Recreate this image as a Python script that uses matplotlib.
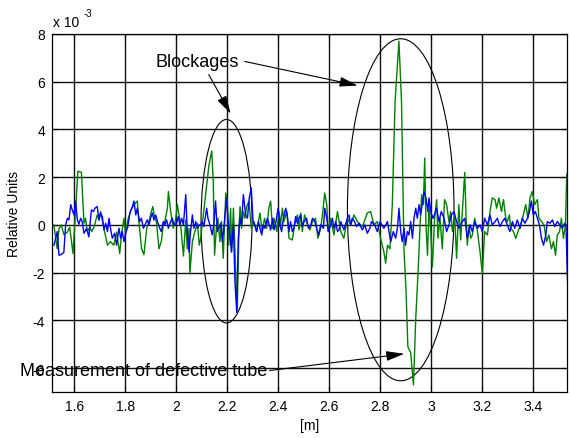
import numpy as np
import matplotlib
matplotlib.use("Agg")
import matplotlib.pyplot as plt
from matplotlib.patches import Ellipse
from matplotlib.ticker import FuncFormatter

plt.rcParams['font.family'] = 'Liberation Sans'
plt.rcParams['axes.unicode_minus'] = False

# position along the tube [m] and relative amplitude (x 1e-3)
green_x = [1.520, 1.533, 1.540, 1.549, 1.559, 1.573, 1.582, 1.595, 1.614, 1.628, 1.638, 1.644, 1.651, 1.661, 1.668,
           1.677, 1.690, 1.697, 1.703, 1.716, 1.730, 1.742, 1.755, 1.766, 1.778, 1.786, 1.795, 1.801, 1.810, 1.821,
           1.834, 1.847, 1.853, 1.864, 1.873, 1.884, 1.893, 1.902, 1.908, 1.915, 1.922, 1.932, 1.941, 1.949, 1.955,
           1.965, 1.969, 1.978, 1.988, 1.997, 2.004, 2.014, 2.017, 2.028, 2.037, 2.043, 2.050, 2.053, 2.063, 2.072,
           2.083, 2.090,
           2.095, 2.115, 2.128, 2.139, 2.145, 2.150, 2.158, 2.163, 2.171, 2.177, 2.184, 2.194, 2.200, 2.206, 2.213,
           2.217, 2.224, 2.233, 2.239, 2.246, 2.250, 2.256, 2.263, 2.269, 2.276, 2.285, 2.294, 2.305, 2.315, 2.328,
           2.337, 2.346, 2.354, 2.363, 2.370, 2.377, 2.383, 2.394, 2.403, 2.409, 2.416, 2.422, 2.433, 2.442, 2.455,
           2.464, 2.475, 2.481, 2.488, 2.494, 2.503, 2.514, 2.524, 2.534, 2.546, 2.555, 2.566, 2.573, 2.582, 2.590,
           2.596, 2.605,
           2.618, 2.632, 2.645, 2.657, 2.671, 2.684, 2.697, 2.710, 2.730, 2.749, 2.762, 2.775, 2.788, 2.801, 2.814,
           2.821, 2.828, 2.838, 2.847, 2.858, 2.873, 2.883, 2.893, 2.901, 2.908, 2.919, 2.930, 2.939, 2.948, 2.956,
           2.962, 2.969, 2.974, 2.979, 2.985, 2.991, 2.998, 3.004, 3.013, 3.021, 3.026, 3.034, 3.043, 3.052, 3.060,
           3.069, 3.076, 3.083, 3.092, 3.099, 3.108, 3.115, 3.126, 3.131, 3.136, 3.141, 3.148, 3.154, 3.161, 3.170,
           3.181, 3.191, 3.200, 3.209, 3.220, 3.230, 3.239, 3.250, 3.256, 3.265, 3.275, 3.283, 3.292, 3.298, 3.306,
           3.311, 3.322, 3.331, 3.340, 3.350, 3.361, 3.370, 3.379, 3.387, 3.396, 3.405, 3.416, 3.422, 3.432, 3.442,
           3.452, 3.461, 3.471, 3.479, 3.487, 3.494, 3.503, 3.510, 3.518, 3.526, 3.531, 3.536]
green_y = [0.0, -1.0, -0.15, 0.0, -0.4, -0.3, -0.1, -1.2, 2.25, 2.2, 0.07, 0.28, -0.28, -0.1, -0.28,
           -0.1, 0.42, 0.2, 0.56, -0.14, -0.85, -0.7, -0.85, -0.3, -1.2, -0.3, 0.28, -0.4, 0.2, 0.6,
           0.85, 1.0, 0.14, -1.0, -1.25, -0.14, 0.14, 0.56, 0.77, 0.28, 0.14, -1.0, -0.7, 0.0, 0.14,
           0.7, 1.4, 0.56, -0.14, 0.2, 0.85, 0.2, 0.0, -1.3, 0.2, -1.0, -0.14, -2.05, -0.7, -0.3,
           0.07, -0.85,
           -0.6, 1.27, 2.5, 3.1, 1.8, -1.27, 0.0, 0.28, -0.7, 0.14, -1.4, 1.34, 1.0, -0.85, 0.7,
           -1.13, 0.7, -2.0, -3.6, 0.0, 0.77, -0.14, 0.56, 0.28, 0.77, 1.0, -0.14, 0.14, -0.28, 0.5,
           -0.28, 0.28, -0.14, 0.7, 1.0, -0.14, 0.28, -0.28, 0.56, 0.0, 0.7, 0.14, 0.56, -0.56, -0.63,
           0.0, 0.42, -0.21, 0.5, -0.28, 0.42, 0.0, -0.21, 0.14, 0.28, -0.56, -0.14, 0.42, 1.34, 0.85,
           -0.28, 0.28,
           -0.42, 0.56, -0.28, -0.56, 0.28, 0.0, 0.42, 0.14, -0.07, 0.5, 0.56, 0.0, 0.14, -0.56, -1.13,
           -1.6, -0.85, -1.0, 0.85, 5.2, 7.7, 5.2, -1.1, -2.8, -5.1, -5.35, -6.7, -3.9, -2.0, 0.0,
           1.27, 0.85, 2.8, 0.0, -1.27, 0.85, -0.28, -1.76, 0.28, 1.06, -0.56, 0.28, -1.0, 1.06, 0.85,
           0.14, 0.56, -0.28, 0.28, -1.4, 0.85, -0.63, 1.27, 2.2, 0.42, -0.85, 0.0, -0.56, -0.42, 0.28,
           -0.28, -1.13, -2.05, -0.28, -0.42, 0.56, 1.13, 1.06, 0.7, 1.13, 0.56, 1.06, 0.28, 0.14, 0.42,
           -0.14, -0.28, -0.56, -0.28, 0.0, 0.42, 0.85, 0.28, 1.13, 1.4, 0.85, 1.06, 0.28, 0.14, 0.0,
           -0.7, -0.42, -1.0, -0.7, -1.27, -0.42, -0.28, 0.28, -0.56, 0.0, 2.1, 2.25]

blue_x = [1.520, 1.527, 1.533, 1.540, 1.549, 1.559, 1.566, 1.573, 1.579, 1.586, 1.592, 1.599, 1.605, 1.612, 1.618,
          1.625, 1.631, 1.638, 1.648, 1.657, 1.667, 1.675, 1.681, 1.690, 1.697, 1.703, 1.710, 1.716, 1.723, 1.730,
          1.736, 1.742, 1.749, 1.758, 1.766, 1.775, 1.782, 1.788, 1.795, 1.801, 1.810, 1.818, 1.828, 1.834, 1.841,
          1.847, 1.856, 1.863, 1.871, 1.877, 1.886, 1.893, 1.899, 1.906, 1.912, 1.919, 1.926, 1.935, 1.941, 1.949,
          1.955, 1.962, 1.969, 1.975, 1.984, 1.991, 2.001, 2.008, 2.014, 2.021, 2.028, 2.037, 2.043, 2.050, 2.056,
          2.063, 2.069, 2.076, 2.083, 2.089, 2.095, 2.102, 2.108, 2.119, 2.124, 2.132, 2.141, 2.148, 2.154, 2.161,
          2.167, 2.174, 2.181, 2.190, 2.197, 2.204, 2.211, 2.216, 2.224, 2.230, 2.237, 2.243, 2.250, 2.255, 2.263,
          2.272, 2.279, 2.286, 2.294, 2.301, 2.307, 2.315, 2.322, 2.328, 2.335, 2.341, 2.348, 2.357, 2.363, 2.370,
          2.378, 2.383, 2.391, 2.399, 2.406, 2.413, 2.420, 2.429, 2.435, 2.442, 2.448, 2.455, 2.461, 2.468, 2.475,
          2.481, 2.488, 2.494, 2.501, 2.511, 2.518, 2.527, 2.534, 2.543, 2.550, 2.559, 2.566, 2.577, 2.582, 2.590,
          2.596, 2.605, 2.612, 2.618, 2.625, 2.632, 2.638, 2.645, 2.657, 2.671, 2.677, 2.684, 2.690, 2.699, 2.707,
          2.716, 2.730, 2.739, 2.749, 2.759, 2.765, 2.778, 2.788, 2.799,
          2.814, 2.828, 2.834, 2.841, 2.851, 2.860, 2.867, 2.873, 2.880, 2.886, 2.893, 2.899, 2.906, 2.912, 2.919,
          2.926, 2.932, 2.939, 2.945, 2.952, 2.958, 2.965, 2.971, 2.979, 2.986, 2.991, 2.999, 3.007, 3.021, 3.030,
          3.039, 3.050, 3.060, 3.069, 3.079, 3.089, 3.099, 3.108, 3.122, 3.131, 3.141, 3.152, 3.161, 3.170, 3.181,
          3.191, 3.200, 3.209, 3.220, 3.230, 3.239, 3.250, 3.259, 3.269, 3.279, 3.288, 3.298, 3.308, 3.318, 3.327,
          3.337, 3.348, 3.357, 3.367, 3.377, 3.385, 3.392, 3.400, 3.408, 3.416, 3.424, 3.432, 3.440, 3.449, 3.455,
          3.465, 3.475, 3.484, 3.494, 3.504, 3.514, 3.523, 3.528, 3.533, 3.537]
blue_y = [-0.85, -0.56, -0.28, -1.27, -1.24, -1.15, 0.0, 0.28, 0.21, 0.85, 0.63, 0.42, 1.0, 0.21, 0.03,
          0.28, 0.14, -0.35, -0.14, -0.5, 0.63, 0.56, 0.7, 0.77, 0.21, 0.49, 0.35, -0.21, 0.07, -0.28,
          0.28, -0.14, -0.56, -0.35, -0.85, -0.14, -0.56, -0.28, -0.7, -0.35, -0.07, 0.5, 0.77, 1.0, 0.42,
          0.7, 0.14, 0.28, -0.14, 0.0, 0.21, 0.0, 0.28, 0.5, 0.21, 0.42, 0.14, -0.14, -0.28, 0.14,
          0.0, 0.21, -0.14, 0.07, 0.28, 0.0, 0.07, 0.35, 0.0, 0.28, 0.0, 1.27, -0.28, -1.13, -0.28,
          0.42, -0.14, 0.14, -0.14, 0.0, 0.0, 0.14, -0.07, 0.7, 0.28, 0.0, -0.42, 0.14, 1.0, -0.28,
          -0.14, 0.07, -0.7, 0.28, 1.13, 0.0, -0.42, -1.13, 0.0, -2.4, -3.66, -0.56, 0.28, 0.0, 1.27,
          0.42, 0.28, 1.13, 1.55, 0.14, 0.0, -0.28, 0.14, -0.14, -0.42, 0.0, -0.14, 0.28, 0.07, -0.21,
          0.28, -0.21, 0.14, 0.7, 0.0, -0.28, 0.28, 0.7, 0.42, -0.28, 0.14, -0.28, -0.14, 0.35, 0.07,
          0.28, 0.42, -0.07, 0.14, 0.28, -0.14, 0.0, 0.28, 0.14, -0.14, -0.42, 0.0, -0.14, 0.7, 0.28,
          -0.28, 0.0, 0.28, -0.14, 0.14, -0.28, -0.21, 0.14, -0.21, 0.28, 0.42, 0.0, 0.28, 0.14, -0.07,
          0.07, -0.21, 0.0, -0.35, -0.14, 0.14, 0.0, -0.28, 0.14,
          -0.14, 0.14, -0.28, -0.7, -0.28, -0.56, -0.14, 0.7, -0.28, -0.7, -0.14, -0.85, -0.28, -0.42, 0.14,
          -0.56, 0.28, 0.7, 0.28, 0.85, 0.42, 0.92, 1.4, 1.13, 0.56, 1.13, 0.49, 0.28, 0.7, 0.14,
          0.56, 0.28, -0.28, 0.0, 0.42, 0.56, 0.14, -0.14, 0.14, 0.28, -0.56, 0.0, -0.28, 0.14, -0.14,
          0.0, -0.28, 0.28, 0.0, 0.42, 0.0, 0.14, 0.28, -0.07, 0.14, 0.28, 0.0, -0.28, 0.14, -0.14,
          0.21, -0.14, 0.28, 0.07, 0.28, 0.56, 1.0, 0.42, 0.56, 0.28, 0.0, -0.56, -0.85, -0.42, 0.14,
          0.07, 0.21, -0.07, 0.14, 0.0, -0.14, 0.07, 0.0, -2.0, -3.1]

x_ticks = [1.6, 1.8, 2.0, 2.2, 2.4, 2.6, 2.8, 3.0, 3.2, 3.4]
y_ticks = [-6, -4, -2, 0, 2, 4, 6, 8]

scale = 1e-3

fig = plt.figure(figsize=(5.70, 4.39), dpi=100)
ax = fig.add_axes([0.0912, 0.1048, 0.9041, 0.8155])

ax.plot(green_x, np.array(green_y) * scale, color='#008000', lw=1.0)
ax.plot(blue_x, np.array(blue_y) * scale, color='#0000ff', lw=1.0)

ax.set_xlim(1.5125, 3.5333)
ax.set_ylim(-7 * scale, 8 * scale)
ax.set_xticks(x_ticks)
ax.set_yticks([v * scale for v in y_ticks])
ax.xaxis.set_major_formatter(FuncFormatter(lambda v, p: f"{v:g}"))
ax.yaxis.set_major_formatter(FuncFormatter(lambda v, p: f"{round(v / scale):d}"))
ax.tick_params(direction='in', length=4, labelsize=10, top=True, right=True, pad=5)
ax.grid(True, color='#111111', lw=1.0, ls='-')
ax.set_axisbelow(True)
for s in ax.spines.values():
    s.set_linewidth(0.9)

ax.set_xlabel('[m]', fontsize=10, labelpad=4)
ax.set_ylabel('Relative Units', fontsize=10, labelpad=8)

# exponent of the y axis
ax.text(0.002, 1.015, 'x 10', transform=ax.transAxes, fontsize=10, ha='left', va='bottom')
ax.text(0.062, 1.045, '-3', transform=ax.transAxes, fontsize=7, ha='left', va='bottom')

# regions of the blockages
ax.add_patch(Ellipse((2.197, 0.155 * scale), 0.20, 8.53 * scale, fill=False, color='k', lw=0.8))
ax.add_patch(Ellipse((2.880, 0.635 * scale), 0.418, 14.33 * scale, fill=False, color='k', lw=0.8))

arrow = dict(arrowstyle='-|>,head_length=1.1,head_width=0.3', color='k', lw=0.8, shrinkA=0, shrinkB=0)
ax.text(1.919, 6.85 * scale, 'Blockages', fontsize=13, ha='left', va='center')
ax.annotate('', xy=(2.213, 4.66 * scale), xytext=(2.127, 6.3 * scale), arrowprops=arrow)
ax.annotate('', xy=(2.711, 5.84 * scale), xytext=(2.268, 6.85 * scale), arrowprops=arrow)

ax.text(1.386, -6.1 * scale, 'Measurement of defective tube', fontsize=13, ha='left', va='center',
        clip_on=False)
ax.annotate('', xy=(2.894, -5.4 * scale), xytext=(2.366, -6.1 * scale), arrowprops=arrow)

fig.savefig('out.png', dpi=100)
